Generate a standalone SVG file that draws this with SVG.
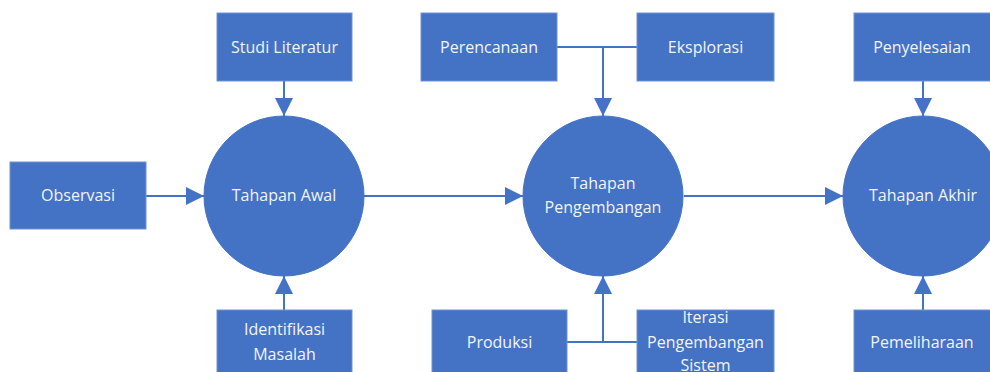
<svg xmlns="http://www.w3.org/2000/svg" width="990" height="372" viewBox="0 0 990 372">
<defs>
<style>
.box{fill:#4472C4;stroke:#6E93D6;stroke-width:1}
.circ{fill:#4472C4;stroke:#4472C4;stroke-width:1}
.t{font-family:"Open Sans","Noto Sans",sans-serif;font-size:16px;fill:#F2F5FB;text-anchor:middle}
.ln{stroke:#4472C4;stroke-width:2;fill:none}
</style>
<marker id="a" viewBox="0 0 18 18" refX="18" refY="9" markerWidth="18" markerHeight="18" markerUnits="userSpaceOnUse" orient="auto">
<path d="M0,0 L18,9 L0,18 Z" fill="#4472C4"/>
</marker>
</defs>
<rect width="990" height="372" fill="#FFFFFF"/>
<g id="connectors">
<line class="ln" x1="284" y1="81" x2="284" y2="116" marker-end="url(#a)"/>
<line class="ln" x1="146" y1="196" x2="204" y2="196" marker-end="url(#a)"/>
<line class="ln" x1="284" y1="310" x2="284" y2="276" marker-end="url(#a)"/>
<line class="ln" x1="364" y1="196" x2="523" y2="196" marker-end="url(#a)"/>
<polyline class="ln" points="557,47 637,47"/>
<line class="ln" x1="603" y1="47" x2="603" y2="116" marker-end="url(#a)"/>
<polyline class="ln" points="567,342 637,342"/>
<line class="ln" x1="603" y1="342" x2="603" y2="276" marker-end="url(#a)"/>
<line class="ln" x1="684" y1="196" x2="843" y2="196" marker-end="url(#a)"/>
<line class="ln" x1="923" y1="81" x2="923" y2="116" marker-end="url(#a)"/>
<line class="ln" x1="923" y1="310" x2="923" y2="276" marker-end="url(#a)"/>
</g>
<g id="studi-literatur"><rect class="box" x="217" y="13" width="135" height="68"/><text class="t" x="284.5" y="53">Studi Literatur</text></g>
<g id="observasi"><rect class="box" x="10" y="162" width="136" height="67"/><text class="t" x="78" y="201">Observasi</text></g>
<g id="tahapan-awal"><circle class="circ" cx="284" cy="196" r="80"/><text class="t" x="284" y="201">Tahapan Awal</text></g>
<g id="identifikasi-masalah"><rect class="box" x="217" y="310" width="135" height="70"/><text class="t" x="284.5" y="335">Identifikasi</text><text class="t" x="284.5" y="360">Masalah</text></g>
<g id="perencanaan"><rect class="box" x="421" y="13" width="136" height="68"/><text class="t" x="489" y="53">Perencanaan</text></g>
<g id="eksplorasi"><rect class="box" x="637" y="13" width="137" height="68"/><text class="t" x="705.5" y="53">Eksplorasi</text></g>
<g id="tahapan-pengembangan"><circle class="circ" cx="603" cy="196" r="80"/><text class="t" x="603" y="189">Tahapan</text><text class="t" x="603" y="213">Pengembangan</text></g>
<g id="produksi"><rect class="box" x="432" y="310" width="135" height="70"/><text class="t" x="499.5" y="348">Produksi</text></g>
<g id="iterasi"><rect class="box" x="637" y="310" width="137" height="70"/><text class="t" x="705.5" y="323">Iterasi</text><text class="t" x="705.5" y="348">Pengembangan</text><text class="t" x="705.5" y="371">Sistem</text></g>
<g id="penyelesaian"><rect class="box" x="854" y="13" width="140" height="68"/><text class="t" x="922" y="53">Penyelesaian</text></g>
<g id="tahapan-akhir"><circle class="circ" cx="923" cy="196" r="80"/><text class="t" x="923" y="201">Tahapan Akhir</text></g>
<g id="pemeliharaan"><rect class="box" x="854" y="310" width="140" height="70"/><text class="t" x="922" y="348">Pemeliharaan</text></g>
</svg>
